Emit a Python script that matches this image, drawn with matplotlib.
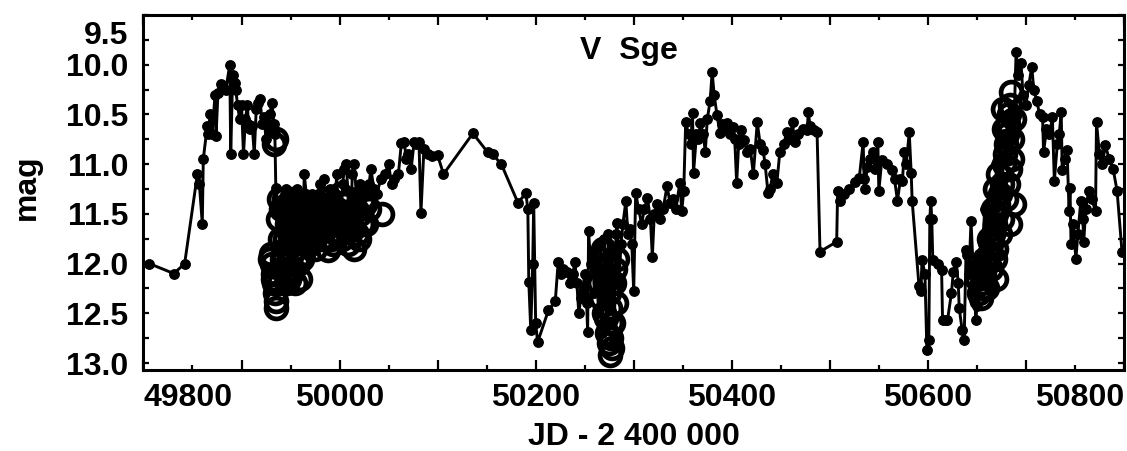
import numpy as np
import matplotlib
matplotlib.use("Agg")
import matplotlib.pyplot as plt
from matplotlib.ticker import MultipleLocator, FixedLocator
from matplotlib.transforms import ScaledTranslation

# visual estimates (filled dots joined by a line), JD - 2400000
jd_vis = [
    49806, 49831, 49842, 49855, 49857, 49860, 49861, 49865, 49866, 49868,
    49870, 49873, 49874, 49876, 49879, 49884, 49888, 49889, 49891, 49893,
    49894, 49896, 49898, 49900, 49902, 49904, 49906, 49907, 49909, 49911,
    49913, 49915, 49917, 49919, 49921, 49923, 49925, 49927, 49929, 49931,
    49933, 49934, 49935, 49937, 49939, 49941, 49943, 49945, 49947, 49949,
    49951, 49953, 49955, 49957, 49959, 49961, 49963, 49964, 49966, 49968,
    49970, 49972, 49974, 49976, 49978, 49980, 49982, 49984, 49986, 49988,
    49990, 49992, 49994, 49996, 49997, 49999, 50001, 50003, 50005, 50007,
    50009, 50011, 50013, 50015, 50017, 50019, 50021, 50023, 50025, 50027,
    50030, 50032, 50035, 50038, 50042, 50046, 50050, 50053, 50056, 50060,
    50063, 50066, 50068, 50070, 50073, 50076, 50078, 50081, 50083, 50086,
    50090, 50094, 50100, 50106, 50136, 50151, 50156, 50165, 50182, 50190,
    50192, 50193, 50195, 50197, 50198, 50200, 50202, 50213, 50220, 50223,
    50226, 50228, 50232, 50235, 50238, 50240, 50242, 50244, 50246, 50248,
    50250, 50252, 50253, 50254, 50256, 50258, 50260, 50262, 50264, 50266,
    50268, 50270, 50272, 50274, 50276, 50278, 50280, 50282, 50283, 50285,
    50287, 50289, 50292, 50294, 50296, 50298, 50300, 50302, 50305, 50308,
    50311, 50314, 50317, 50319, 50321, 50324, 50327, 50330, 50334, 50337,
    50340, 50343, 50347, 50349, 50351, 50353, 50356, 50358, 50360, 50361,
    50364, 50366, 50368, 50371, 50373, 50375, 50378, 50380, 50382, 50385,
    50388, 50390, 50393, 50395, 50398, 50401, 50403, 50405, 50407, 50409,
    50412, 50416, 50419, 50422, 50426, 50429, 50432, 50434, 50437, 50439,
    50442, 50446, 50449, 50453, 50456, 50459, 50462, 50464, 50468, 50473,
    50477, 50478, 50480, 50484, 50487, 50490, 50507, 50508, 50510, 50514,
    50520, 50526, 50530, 50534, 50535, 50536, 50538, 50541, 50544, 50546,
    50549, 50550, 50553, 50558, 50563, 50566, 50569, 50572, 50574, 50576,
    50578, 50581, 50583, 50584, 50591, 50593, 50594, 50597, 50599, 50601,
    50602, 50603, 50604, 50605, 50610, 50614, 50615, 50618, 50620, 50624,
    50626, 50629, 50631, 50632, 50635, 50637, 50639, 50640, 50642, 50644,
    50646, 50648, 50649, 50650, 50652, 50654, 50656, 50658, 50660, 50662,
    50664, 50666, 50668, 50670, 50672, 50674, 50676, 50678, 50680, 50682,
    50684, 50686, 50688, 50690, 50692, 50695, 50697, 50700, 50703, 50706,
    50708, 50711, 50714, 50717, 50718, 50721, 50724, 50727, 50729, 50732,
    50734, 50736, 50737, 50740, 50742, 50744, 50745, 50746, 50748, 50751,
    50753, 50756, 50758, 50759, 50761, 50764, 50767, 50771, 50772, 50775,
    50778, 50781, 50785, 50789, 50793, 50798,
]
mag_vis = [
    12.00, 12.10, 12.00, 11.10, 11.20, 11.60, 10.95, 10.62, 10.70, 10.50,
    10.70, 10.30, 10.72, 10.28, 10.19, 10.25, 10.00, 10.90, 10.10, 10.18,
    10.25, 10.40, 10.55, 10.40, 10.90, 10.55, 10.40, 10.60, 10.65, 10.62,
    10.90, 10.45, 10.38, 10.34, 10.60, 10.53, 10.75, 10.60, 10.50, 10.38,
    10.60, 10.70, 11.24, 11.40, 11.80, 11.35, 12.10, 11.25, 11.60, 11.90,
    11.30, 11.70, 11.40, 11.25, 11.80, 11.35, 11.50, 11.10, 11.30, 11.75,
    11.40, 11.30, 11.60, 11.80, 11.35, 11.20, 11.50, 11.15, 11.70, 11.35,
    11.25, 11.60, 11.80, 11.30, 11.10, 11.45, 11.75, 11.20, 11.05, 11.00,
    11.40, 11.70, 11.10, 11.00, 11.30, 11.60, 11.20, 11.25, 11.45, 11.30,
    11.20, 11.05, 11.25, 11.30, 11.15, 11.10, 11.00, 11.20, 11.15, 11.10,
    10.79, 10.78, 10.95, 10.90, 11.05, 10.78, 10.80, 10.78, 11.49, 10.85,
    10.90, 10.92, 10.91, 11.10, 10.69, 10.88, 10.90, 11.00, 11.39, 11.29,
    11.45, 12.18, 12.67, 12.00, 11.39, 12.60, 12.79, 12.47, 12.38, 11.98,
    12.10, 12.05, 12.08, 12.20, 12.10, 11.98, 12.20, 12.50, 12.35, 12.28,
    12.10, 12.40, 12.69, 11.67, 12.00, 11.95, 12.30, 11.85, 12.50, 11.80,
    12.70, 11.75, 12.60, 11.70, 12.40, 11.85, 12.80, 11.70, 11.59, 12.20,
    11.80, 11.60, 11.37, 11.70, 11.65, 11.80, 12.28, 11.29, 11.45, 11.60,
    11.45, 11.34, 11.55, 11.93, 11.50, 11.40, 11.55, 11.45, 11.22, 11.39,
    11.35, 11.45, 11.19, 11.47, 11.27, 10.58, 10.70, 10.80, 10.49, 11.09,
    10.70, 10.75, 10.59, 10.70, 10.88, 10.55, 10.36, 10.07, 10.30, 10.51,
    10.69, 10.60, 10.65, 10.59, 10.70, 10.63, 10.75, 11.19, 10.80, 10.66,
    10.76, 10.88, 10.85, 11.10, 10.58, 10.80, 10.86, 11.00, 11.29, 11.25,
    11.10, 11.19, 10.88, 10.80, 10.68, 10.75, 10.58, 10.78, 10.70, 10.65,
    10.66, 10.48, 10.62, 10.66, 10.68, 11.88, 11.78, 11.27, 11.37, 11.30,
    11.25, 11.18, 11.14, 10.78, 11.15, 11.25, 11.03, 10.95, 10.88, 11.05,
    10.78, 11.27, 10.96, 11.00, 11.06, 11.15, 11.37, 11.15, 11.17, 10.88,
    11.00, 10.68, 11.09, 11.37, 12.23, 12.28, 11.96, 12.10, 12.87, 12.77,
    11.55, 11.37, 11.55, 11.96, 12.00, 12.06, 12.57, 12.57, 12.57, 12.30,
    12.08, 11.98, 12.20, 12.45, 12.67, 12.77, 11.86, 11.91, 12.10, 11.57,
    12.00, 12.40, 12.57, 12.43, 11.90, 12.20, 11.80, 11.45, 12.00, 11.50,
    11.80, 11.30, 11.60, 11.00, 11.40, 10.80, 11.20, 10.70, 10.95, 10.50,
    10.75, 10.40, 10.55, 9.87, 10.10, 9.98, 10.30, 10.40, 10.20, 10.02,
    10.25, 10.36, 10.50, 10.53, 10.88, 10.65, 10.70, 10.53, 11.17, 10.80,
    10.70, 10.48, 11.06, 10.95, 10.86, 11.47, 11.24, 11.80, 11.60, 11.95,
    11.70, 11.37, 11.55, 11.78, 11.45, 11.27, 11.35, 11.47, 10.58, 10.90,
    11.00, 10.81, 10.95, 11.05, 11.27, 11.88,
]

# photoelectric runs (open circles)
jd_pe = [
    49933, 49935, 49929, 49930, 49931, 49932, 49932, 49933, 49934, 49935,
    49935, 49938, 49940, 49942, 49944, 49946, 49948, 49950, 49952, 49954,
    49956, 49958, 49960, 49962, 49964, 49940, 49943, 49946, 49950, 49955,
    49960, 49966, 49969, 49972, 49975, 49978, 49981, 49984, 49987, 49988,
    49991, 49994, 49997, 50000, 50003, 50006, 50009, 50012, 50015, 50018,
    50021, 50024, 50027, 50030, 50043, 50266, 50268, 50270, 50272, 50274,
    50275, 50276, 50277, 50277, 50276, 50280, 50282, 50272, 50652, 50655,
    50657, 50660, 50662, 50664, 50666, 50668, 50670, 50672, 50674, 50676,
    50678, 50679, 50680, 50681, 50682, 50683, 50684, 50685, 50660, 50668,
    50674, 50676, 50680, 50670, 50662, 50678, 50686, 50684,
    49937, 49939, 49941, 49944, 49947, 49949, 49951, 49953, 49957, 49959,
    49961, 49963, 49945, 49955, 49938, 49948, 49967, 49970, 49973, 49976,
    49979, 49982, 49985, 49990, 49993, 49996, 49999, 50002, 50005, 50008,
    50011, 50014, 50017, 50020, 50023, 50026, 50265, 50267, 50270, 50273,
    50279, 50281, 50283, 50269, 50278, 50275, 50650, 50654, 50658, 50664,
    50666, 50670, 50672, 50682, 50686, 50688, 50684, 50677, 50688, 50656,
    50668,
]
mag_pe = [
    10.80, 10.75, 11.95, 11.90, 12.00, 12.10, 12.15, 12.20, 12.30, 12.38,
    12.45, 12.20, 12.05, 11.90, 11.75, 11.60, 11.45, 11.35, 11.50, 11.70,
    11.85, 12.00, 12.15, 11.95, 11.70, 11.45, 11.35, 12.20, 12.10, 12.20,
    11.45, 11.40, 11.60, 11.75, 11.85, 11.70, 11.50, 11.35, 11.55, 11.86,
    11.75, 11.60, 11.45, 11.30, 11.50, 11.65, 11.80, 11.55, 11.85, 11.70,
    11.50, 11.35, 11.60, 11.45, 11.50, 11.95, 12.05, 11.85, 12.00, 12.15,
    12.30, 12.45, 12.60, 12.75, 12.92, 12.20, 12.40, 12.55, 12.30, 12.20,
    12.10, 12.00, 11.90, 11.80, 11.70, 11.60, 11.50, 11.40, 11.30, 11.20,
    11.00, 10.90, 10.80, 10.70, 10.60, 10.50, 10.40, 10.27, 12.25, 11.95,
    11.70, 11.55, 11.35, 12.15, 11.75, 10.65, 10.75, 11.05,
    11.55, 11.75, 11.95, 12.10, 11.85, 11.65, 11.90, 12.05, 11.55, 11.75,
    11.60, 11.90, 11.50, 11.40, 11.35, 12.15, 11.55, 11.80, 11.45, 11.60,
    11.40, 11.75, 11.65, 11.40, 11.80, 11.70, 11.55, 11.75, 11.40, 11.60,
    11.35, 11.65, 11.45, 11.75, 11.60, 11.40, 12.20, 12.35, 12.50, 12.70,
    12.60, 12.05, 11.95, 11.85, 12.85, 12.80, 12.15, 12.35, 11.95, 12.05,
    11.45, 11.85, 11.10, 11.20, 10.95, 11.40, 11.60, 10.45, 10.55, 12.25,
    11.25,
]

x_labels = [49800, 50000, 50200, 50400, 50600, 50800]
y_labels = [9.5, 10.0, 10.5, 11.0, 11.5, 12.0, 12.5, 13.0]

plt.rcParams["font.family"] = ["Liberation Sans", "DejaVu Sans"]
plt.rcParams["font.weight"] = "bold"

fig = plt.figure(figsize=(11.27, 4.51), dpi=100)
ax = fig.add_axes([0.1273, 0.1796, 0.8700, 0.7871])

ax.plot(jd_pe, mag_pe, "o", ms=15, mfc="none", mec="black", mew=3.4, zorder=3)
ax.plot(jd_vis, mag_vis, "-o", color="black", lw=2.1, ms=6.8, zorder=4)

ax.set_xlim(49800, 50800)
ax.set_ylim(13.07, 9.5)

x_major = np.arange(49800, 50801, 100)
ax.xaxis.set_major_locator(FixedLocator(x_major))
ax.xaxis.set_minor_locator(MultipleLocator(50))
ax.set_xticks(x_major)
ax.set_xticklabels([str(v) if v in x_labels else "" for v in x_major])
ax.set_yticks(y_labels)
ax.set_yticklabels([f"{v:.1f}" for v in y_labels])
ax.yaxis.set_minor_locator(MultipleLocator(0.25))

ax.tick_params(which="both", direction="in", top=True, right=True, width=1.6,
               labelsize=23, colors="black")
ax.tick_params(axis="x", which="major", length=7, pad=9)
ax.tick_params(axis="x", which="minor", length=3.5)
ax.tick_params(axis="y", which="both", length=4.5, pad=11)
for s in ax.spines.values():
    s.set_linewidth(2.2)

xt = ax.get_xticklabels()
xt[0].set_ha("left")
xt[-1].set_ha("right")
yt = ax.get_yticklabels()
yt[0].set_transform(yt[0].get_transform() + ScaledTranslation(0, -0.17, fig.dpi_scale_trans))

ax.set_xlabel("JD - 2 400 000", fontsize=23, fontweight="bold", labelpad=7)
ax.set_ylabel("mag", fontsize=23, fontweight="bold", ha="center", va="center")
ax.yaxis.set_label_coords(-0.119, 0.515)

ax.text(50295, 9.86, "V  Sge", fontsize=23, fontweight="bold", ha="center", va="center")

plt.savefig("out.png", dpi=100)
print("saved out.png")
